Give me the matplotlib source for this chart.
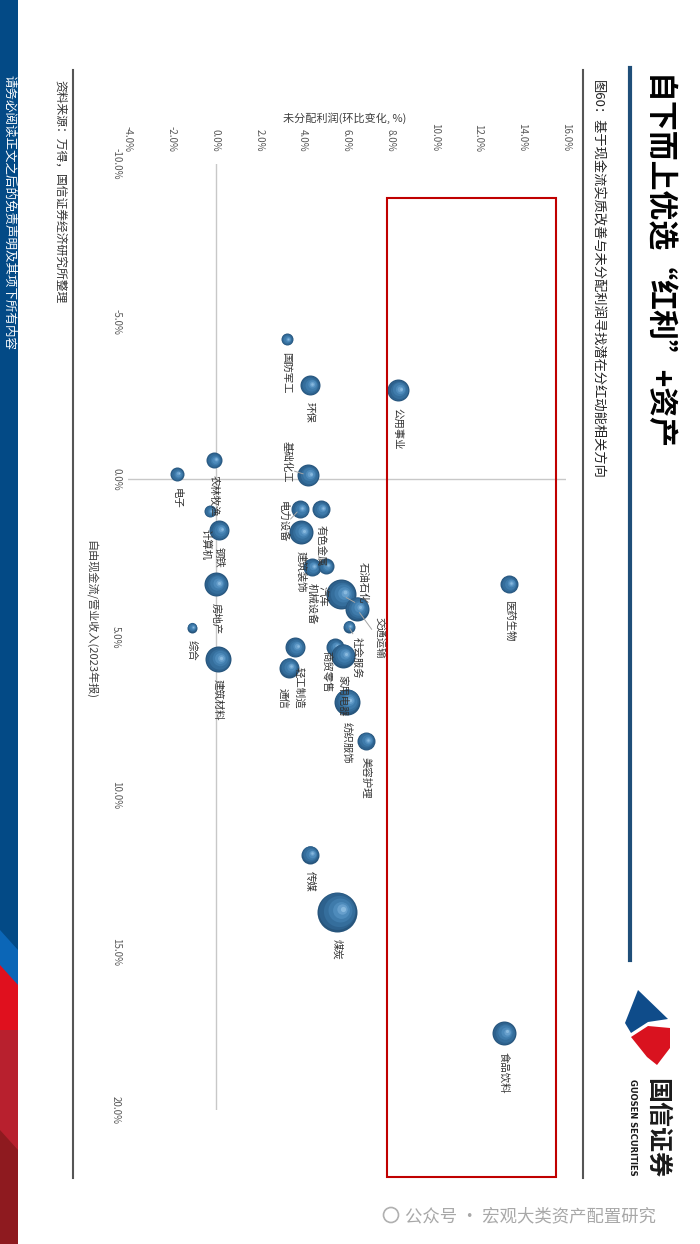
"""
"""

import numpy as np
import matplotlib
matplotlib.use('Agg')
import matplotlib.pyplot as plt
from matplotlib.lines import Line2D
from matplotlib.patches import Rectangle, Polygon, Ellipse
from matplotlib.transforms import ScaledTranslation
from matplotlib.ticker import FuncFormatter

plt.rcParams['font.family'] = ['Noto Sans CJK SC', 'DejaVu Sans']

# Industries (Shenwan level 1, ex-banks / non-banks)
industries = ['公用事业', '国防军工', '环保', '基础化工', '农林牧渔', '电子',
              '电力设备', '有色金属', '建筑装饰', '计算机', '钢铁', '房地产',
              '综合', '建筑材料', '机械设备', '汽车', '石油石化', '交通运输',
              '社会服务', '轻工制造', '通信', '商贸零售', '家用电器', '纺织服饰',
              '美容护理', '传媒', '煤炭', '医药生物', '食品饮料']

# Free cash flow / revenue, 2023 annual report (%)
cash_flow = [-2.83, -4.44, -2.98, -0.13, -0.60, -0.16,
             0.95, 0.95, 1.68, 1.02, 1.62, 3.33,
             4.70, 5.71, 2.79, 2.76, 3.65, 4.10,
             4.67, 5.33, 5.97, 5.33, 5.59, 7.05,
             8.29, 11.90, 13.71, 3.33, 17.56]

# Undistributed profit, QoQ change (%)
profit_chg = [8.31, 3.24, 4.29, 4.20, -0.09, -1.78,
              3.84, 4.79, 3.88, -0.27, 0.14, 0.00,
              -1.10, 0.09, 4.38, 5.02, 5.71, 6.44,
              6.07, 3.61, 3.33, 5.43, 5.80, 5.98,
              6.85, 4.29, 5.53, 13.38, 13.15]

# Bubble size
bubble_size = [11, 6, 10, 11, 8, 7,
               9, 9, 12, 6, 10, 12,
               5, 13, 9, 8, 15, 12,
               6, 10, 10, 9, 12, 13,
               9, 9, 20, 9, 12]

profit_ticks = np.arange(-4, 17, 2)
cash_ticks = np.arange(-10, 21, 5)

W, H = 700, 1244


def fx(x):
    return x / W


def fy(y):
    return 1 - y / H


fig = plt.figure(figsize=(7, 12.44), dpi=100)

# Plot area (page is rotated: profit runs left->right, cash flow top->bottom)
ax = fig.add_axes([fx(128), fy(1110), fx(566) - fx(128), fy(164) - fy(1110)])
for s in ax.spines.values():
    s.set_visible(False)
ax.axhline(0, color='#c8c8c8', lw=1, zorder=1)
ax.axvline(0, color='#c8c8c8', lw=1, zorder=1)

ax.xaxis.tick_top()
ax.set_xticks(profit_ticks)
ax.set_yticks(cash_ticks)
fmt = FuncFormatter(lambda v, _: f'{v:.1f}%')
ax.xaxis.set_major_formatter(fmt)
ax.yaxis.set_major_formatter(fmt)
ax.tick_params(length=0, labelsize=7, labelcolor='#595959')
ax.tick_params(axis='x', pad=9, labelrotation=270)
ax.tick_params(axis='y', pad=5, labelrotation=270)
for t in ax.get_yticklabels():
    t.set_va('center')

# Sphere-like bubbles: stacked circles, lighter toward the highlight
layers = [(1.00, '#27557c', 0.00), (0.92, '#2d618d', 0.04), (0.78, '#356e9c', 0.10),
          (0.60, '#3f7bab', 0.17), (0.42, '#4e8bbb', 0.24), (0.26, '#679fcc', 0.29),
          (0.13, '#88b9de', 0.32)]
ang = np.deg2rad(25)
for x, y, r in zip(profit_chg, cash_flow, bubble_size):
    for f, col, off in layers:
        dx = off * r * np.cos(ang) / 100
        dy = off * r * np.sin(ang) / 100
        tr = ax.transData + ScaledTranslation(dx, dy, fig.dpi_scale_trans)
        ax.scatter([x], [y], s=(2 * r * f * 0.72) ** 2, color=col,
                   transform=tr, linewidths=0, zorder=3)

# Label placement (page pixels: dx, top offset) where it is moved by hand
label_shift = {
    '基础化工': (-21, -34, (1, 0.3)),
    '电力设备': (-17, -8, (1, 0.5)),
    '石油石化': (22, -32, (0, 0)),
    '交通运输': (23, 8, (0, 0.6)),
    '社会服务': (8, 10, (0.3, 1)),
    '商贸零售': (-9, 4, None),
    '计算机': (-4, 18, None),
    '汽车': (-3, 20, None),
    '轻工制造': (4, 20, None),
    '通信': (-7, 20, None),
}

for name, x, y, r in zip(industries, profit_chg, cash_flow, bubble_size):
    dx, dy, rel = label_shift.get(name, (0, r + 7, None))
    kw = {}
    if rel is not None:
        kw['arrowprops'] = dict(arrowstyle='-', color='#a6a6a6', lw=0.7,
                                shrinkA=0, shrinkB=r * 0.3, relpos=rel)
    ax.annotate(name, (x, y), xytext=(dx * 0.72, -dy * 0.72),
                textcoords='offset points', rotation=270, ha='center', va='top',
                fontsize=7.5, color='#333333', zorder=5, **kw)

ax.set_xlim(-4, 16)
ax.set_ylim(20, -10)

# Axis titles
fig.text(fx(345), fy(118), '未分配利润(环比变化, %)', ha='center', va='center',
         fontsize=8, color='#404040')
fig.text(fx(91), fy(620), '自由现金流/营业收入(2023年报)', ha='center', va='center',
         rotation=270, fontsize=8, color='#404040')

# Highlight box
fig.add_artist(Rectangle((fx(387), fy(1177)), fx(556) - fx(387), fy(198) - fy(1177),
                         transform=fig.transFigure, fill=False, ec='#c00000', lw=1.5))

# Page frame lines
fig.add_artist(Line2D([fx(73), fx(73)], [fy(70), fy(1178)], transform=fig.transFigure,
                      color='#555555', lw=1.5))
fig.add_artist(Line2D([fx(583), fx(583)], [fy(70), fy(1178)], transform=fig.transFigure,
                      color='#555555', lw=1.5))
fig.add_artist(Line2D([fx(630), fx(630)], [fy(68), fy(960)], transform=fig.transFigure,
                      color='#1f4e79', lw=3))

# Title, subtitle, source
fig.text(fx(656), fy(75), '自下而上优选“红利”+资产', ha='center', va='top', rotation=270,
         fontsize=21.5, fontweight='bold', color='black')
fig.text(fx(597), fy(80), '图60：基于现金流实质改善与未分配利润寻找潜在分红动能相关方向',
         ha='center', va='top', rotation=270, fontsize=9.5, color='#222222')
fig.text(fx(60), fy(80), '资料来源：万得，国信证券经济研究所整理', ha='center', va='top',
         rotation=270, fontsize=8.5, color='#333333')

# Left sidebar
fig.add_artist(Rectangle((0, 0), fx(18), 1, transform=fig.transFigure, color='#034a86', lw=0))
side_polys = [
    ([(0, 930), (18, 950), (18, 1010), (0, 1000)], '#0b66b7'),
    ([(0, 965), (18, 985), (18, 1050), (0, 1070)], '#e0101e'),
    ([(0, 1030), (18, 1030), (18, 1160), (0, 1150)], '#b8202e'),
    ([(0, 1130), (18, 1150), (18, 1244), (0, 1244)], '#8e1a1f'),
]
for pts, col in side_polys:
    fig.add_artist(Polygon([(fx(a), fy(b)) for a, b in pts], closed=True,
                           transform=fig.transFigure, color=col, lw=0))
fig.text(fx(9), fy(75), '请务必阅读正文之后的免责声明及其项下所有内容', ha='center', va='top',
         rotation=270, fontsize=9, color='white')

# Logo
logo_blue = [(638, 990), (668, 1019), (648, 1022), (631, 1033), (625, 1023)]
logo_red = [(631, 1037), (648, 1026), (670, 1028), (670, 1048), (657, 1065), (647, 1057)]
fig.add_artist(Polygon([(fx(a), fy(b)) for a, b in logo_blue], closed=True,
                       transform=fig.transFigure, color='#0f4c8a', lw=0))
fig.add_artist(Polygon([(fx(a), fy(b)) for a, b in logo_red], closed=True,
                       transform=fig.transFigure, color='#d9121f', lw=0))
fig.text(fx(656), fy(1078), '国信证券', ha='center', va='top', rotation=270,
         fontsize=18, fontweight='bold', color='#1a1a1a')
fig.text(fx(633), fy(1079), 'GUOSEN SECURITIES', ha='center', va='top', rotation=270,
         fontsize=6, fontweight='bold', color='#1a1a1a', family='DejaVu Sans')

# Watermark
fig.add_artist(Ellipse((fx(391), fy(1215)), fx(15), 15 / H, transform=fig.transFigure,
                       fc='none', ec='#b0b0b0', lw=1.2))
fig.text(fx(405), fy(1216), '公众号 · 宏观大类资产配置研究', ha='left', va='center',
         fontsize=12.5, color='#a8a8a8')

fig.savefig('out.png', dpi=100)
